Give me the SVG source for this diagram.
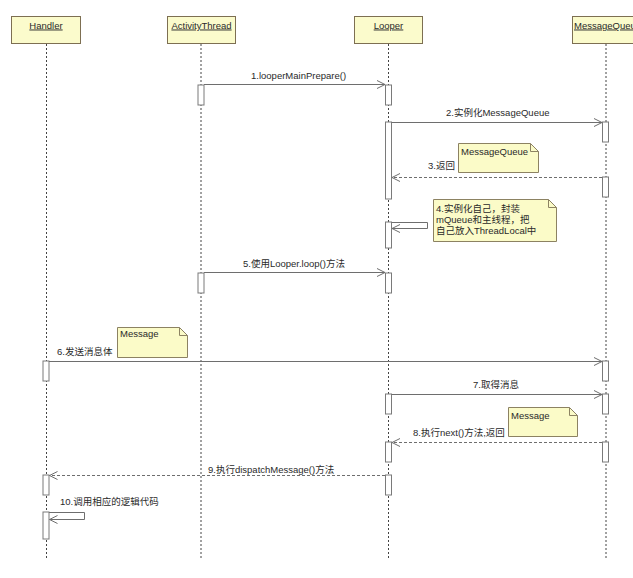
<svg xmlns="http://www.w3.org/2000/svg" width="633" height="578" viewBox="0 0 633 578">
<defs>
<style>
text{font-family:"Liberation Sans","Noto Sans CJK SC",Arial,sans-serif;font-size:9.5px;fill:#2a2a2a}
.hdr{fill:#fbfbcc;stroke:#7d6f52;stroke-width:1}
.ht{text-decoration:underline}
.life{stroke:#444;stroke-width:1;stroke-dasharray:2,2;fill:none}
.bar{fill:#fff;stroke:#7a7a7a;stroke-width:1}
.msg{stroke:#6e6e6e;stroke-width:1;fill:none}
.ret{stroke:#6e6e6e;stroke-width:1;fill:none;stroke-dasharray:3,2}
.note{fill:#fbfbc8;stroke:#8c8262;stroke-width:1}
.fold{fill:none;stroke:#8c8262;stroke-width:1}
</style>
<marker id="open" markerWidth="10" markerHeight="10" refX="9" refY="5" orient="auto" markerUnits="userSpaceOnUse">
<path d="M1,1 L9,5 L1,9" fill="none" stroke="#6e6e6e" stroke-width="1"/>
</marker>
</defs>
<rect width="633" height="578" fill="#ffffff"/>

<g id="handler">
<rect class="hdr" x="11.5" y="16.5" width="69" height="27"/>
<text class="ht" x="46" y="28.5" text-anchor="middle">Handler</text>
<line class="life" x1="46.5" y1="44" x2="46.5" y2="558"/>
<rect class="bar" x="43" y="361" width="6" height="20"/>
<rect class="bar" x="43" y="475" width="6" height="20"/>
<rect class="bar" x="43" y="512" width="6" height="27"/>
</g>

<g id="activitythread">
<rect class="hdr" x="167.5" y="16.5" width="68" height="27"/>
<text class="ht" x="201.5" y="28.5" text-anchor="middle">ActivityThread</text>
<line class="life" x1="201" y1="44" x2="201" y2="558"/>
<rect class="bar" x="198" y="85" width="6" height="20"/>
<rect class="bar" x="198" y="273" width="6" height="20"/>
</g>

<g id="looper">
<rect class="hdr" x="354.5" y="16.5" width="68" height="27"/>
<text class="ht" x="388.5" y="28.5" text-anchor="middle">Looper</text>
<line class="life" x1="388.5" y1="44" x2="388.5" y2="558"/>
<rect class="bar" x="385.5" y="85" width="6" height="20"/>
<rect class="bar" x="385.5" y="122" width="6" height="77"/>
<rect class="bar" x="385.5" y="222" width="6" height="26"/>
<rect class="bar" x="385.5" y="273" width="6" height="20"/>
<rect class="bar" x="385.5" y="394" width="6" height="20"/>
<rect class="bar" x="385.5" y="442" width="6" height="20"/>
<rect class="bar" x="385.5" y="475" width="6" height="20"/>
</g>

<g id="messagequeue">
<rect class="hdr" x="572.5" y="16.5" width="70" height="27"/>
<text class="ht" x="574" y="28.5">MessageQueue</text>
<line class="life" x1="606" y1="44" x2="606" y2="558"/>
<rect class="bar" x="602.5" y="122" width="6" height="20"/>
<rect class="bar" x="602.5" y="177" width="6" height="20"/>
<rect class="bar" x="602.5" y="361" width="6" height="20"/>
<rect class="bar" x="602.5" y="394" width="6" height="20"/>
<rect class="bar" x="602.5" y="442" width="6" height="20"/>
</g>

<g id="notes">
<g id="note-mq">
<path class="note" d="M458.5,143.5 H530.5 L538.5,151.5 V172.5 H458.5 Z"/>
<path class="fold" d="M530.5,143.5 V151.5 H538.5"/>
<text x="461" y="155">MessageQueue</text>
</g>
<g id="note-4">
<path class="note" d="M433.5,199.5 H548.5 L556.5,207.5 V241.5 H433.5 Z"/>
<path class="fold" d="M548.5,199.5 V207.5 H556.5"/>
<text x="436" y="212">4.实例化自己，封装</text>
<text x="436" y="223">mQueue和主线程，把</text>
<text x="436" y="234">自己放入ThreadLocal中</text>
</g>
<g id="note-msg6">
<path class="note" d="M117.5,327.5 H179.5 L187.5,335.5 V357.5 H117.5 Z"/>
<path class="fold" d="M179.5,327.5 V335.5 H187.5"/>
<text x="120" y="337">Message</text>
</g>
<g id="note-msg8">
<path class="note" d="M508.5,407.5 H569.5 L577.5,415.5 V436.5 H508.5 Z"/>
<path class="fold" d="M569.5,407.5 V415.5 H577.5"/>
<text x="511" y="419">Message</text>
</g>
</g>

<g id="connectors">
<line class="msg" x1="204" y1="84.5" x2="385" y2="84.5" marker-end="url(#open)"/>
<text x="251" y="78.5">1.looperMainPrepare()</text>

<line class="msg" x1="391.5" y1="122.5" x2="602" y2="122.5" marker-end="url(#open)"/>
<text x="446" y="116">2.实例化MessageQueue</text>

<line class="ret" x1="602" y1="177.5" x2="392" y2="177.5" marker-end="url(#open)"/>
<text x="428" y="168.5">3.返回</text>

<path class="msg" d="M391.5,222.5 H427.5 V228.5 H392" marker-end="url(#open)"/>

<line class="msg" x1="204" y1="272.5" x2="385" y2="272.5" marker-end="url(#open)"/>
<text x="243" y="267">5.使用Looper.loop()方法</text>

<line class="msg" x1="49" y1="361.5" x2="602" y2="361.5" marker-end="url(#open)"/>
<text x="57" y="354.5">6.发送消息体</text>

<line class="msg" x1="391.5" y1="394.5" x2="602" y2="394.5" marker-end="url(#open)"/>
<text x="473" y="387.5">7.取得消息</text>

<line class="ret" x1="602" y1="442.5" x2="392" y2="442.5" marker-end="url(#open)"/>
<text x="413" y="436">8.执行next()方法,返回</text>

<line class="ret" x1="385" y1="475.5" x2="49.5" y2="475.5" marker-end="url(#open)"/>
<text x="208" y="472.5">9.执行dispatchMessage()方法</text>

<path class="msg" d="M49,512.5 H84.5 V519.5 H49.5" marker-end="url(#open)"/>
<text x="60" y="505">10.调用相应的逻辑代码</text>
</g>
</svg>
